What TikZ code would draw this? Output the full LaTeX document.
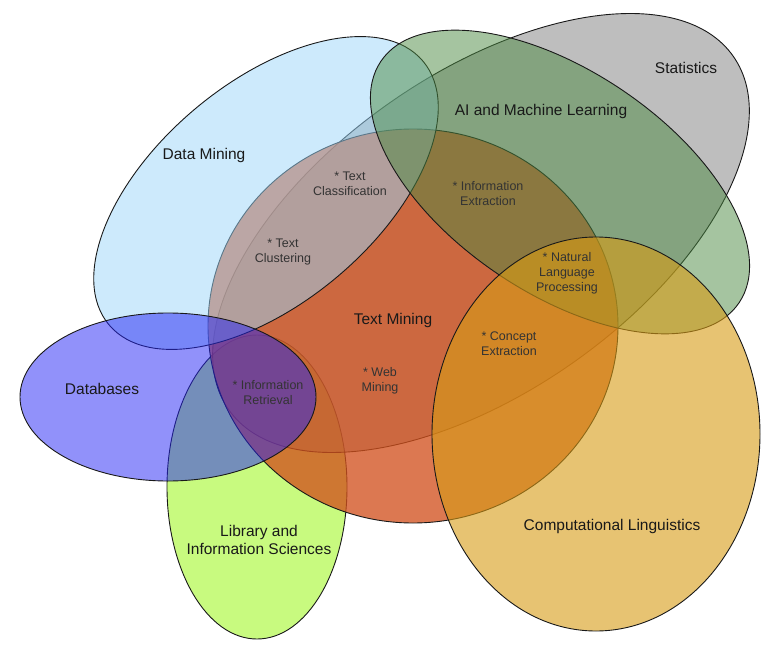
\documentclass[tikz,border=0pt]{standalone}
\usepackage{fontspec}
\setmainfont{Liberation Sans}
\usepackage{xcolor}
\usepackage{tikz}

\definecolor{libfill}{RGB}{145,245,0}
\definecolor{statfill}{RGB}{125,125,125}
\definecolor{tmfill}{RGB}{209,80,28}
\definecolor{dmfill}{RGB}{155,214,250}
\definecolor{aifill}{RGB}{75,137,65}
\definecolor{clfill}{RGB}{215,155,20}
\definecolor{dbfill}{RGB}{35,35,245}

\begin{document}
\begin{tikzpicture}[x=1pt, y=1pt,
	setline/.style={draw=black!90, line width=0.9pt},
	biglabel/.style={font=\fontsize{15.5}{18}\selectfont, align=center, text=black!90},
	smalllabel/.style={font=\fontsize{12.5}{15}\selectfont, align=center, text=black!80}]
				
				\useasboundingbox (0,0) rectangle (774,-650);
				
				%Sets, back to front
				\filldraw[setline, fill=libfill, fill opacity=0.5] (257,-487) ellipse [x radius=90, y radius=152];
				\filldraw[setline, fill=statfill, fill opacity=0.5, rotate around={35:(481,-233)}] (481,-233) ellipse [x radius=308, y radius=159];
				\filldraw[setline, fill=tmfill, fill opacity=0.77] (413,-326) ellipse [x radius=205, y radius=197];
				\filldraw[setline, fill=dmfill, fill opacity=0.5, rotate around={40:(266,-193)}] (266,-193) ellipse [x radius=205, y radius=110];
				\filldraw[setline, fill=aifill, fill opacity=0.5, rotate around={-34:(560,-182)}] (560,-182) ellipse [x radius=216, y radius=111];
				\filldraw[setline, fill=clfill, fill opacity=0.6] (596,-434) ellipse [x radius=164, y radius=197];
				\filldraw[setline, fill=dbfill, fill opacity=0.5] (168,-397) ellipse [x radius=148, y radius=84];
				
				%Set names
				\node[biglabel] (stat) at (686,-68) {Statistics};
				\node[biglabel] (aiml) at (541,-111) {AI and Machine Learning};
				\node[biglabel] (dm) at (204,-155) {Data Mining};
				\node[biglabel] (tm) at (393,-320) {Text Mining};
				\node[biglabel] (db) at (102,-389) {Databases};
				\node[biglabel] (lis) at (259,-540) {Library and\\Information Sciences};
				\node[biglabel] (cl) at (612,-526) {Computational Linguistics};
				
				%Overlaps
				\node[smalllabel] (tclass) at (350,-184) {* Text\\Classification};
				\node[smalllabel] (iext) at (488,-194) {* Information\\Extraction};
				\node[smalllabel] (tclust) at (283,-252) {* Text\\Clustering};
				\node[smalllabel] (nlp) at (567,-273) {* Natural\\Language\\Processing};
				\node[smalllabel] (cext) at (509,-344) {* Concept\\Extraction};
				\node[smalllabel] (web) at (380,-381) {* Web\\Mining};
				\node[smalllabel] (ir) at (268,-393) {* Information\\Retrieval};
			\end{tikzpicture}
\end{document}
